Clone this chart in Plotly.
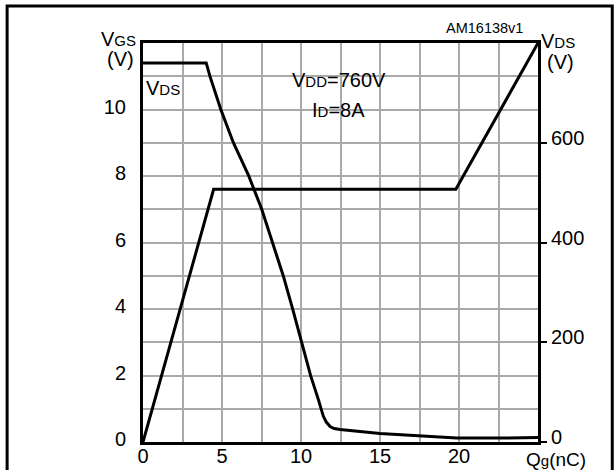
import plotly.graph_objects as go

# Gate charge Qg (nC) and VGS (V) - left axis
qg_vgs = [0, 4.47, 19.8, 25]
vgs = [0, 7.6, 7.6, 12]

# Gate charge Qg (nC) and VDS (V) - right axis
qg_vds = [0, 4.0, 4.24, 4.92, 5.72, 6.70, 7.51, 8.20, 8.88, 9.47, 10.04, 10.61,
          11.1, 11.41, 11.6, 11.84, 12.1, 12.47, 15.0, 17.53, 19.85, 22.6, 25]
vds = [760, 760, 733, 667, 600, 533, 467, 400, 333, 267, 200, 133,
       85, 52, 40, 31, 27, 25, 17, 12, 8, 8, 9]

x_grid = [0, 2.5, 5, 7.5, 10, 12.5, 15, 17.5, 20, 22.5, 25]
x_text = ["0", "", "5", "", "10", "", "15", "", "20", "", ""]
y_grid = list(range(0, 13))
y_text = ["0", "", "2", "", "4", "", "6", "", "8", "", "10", "", ""]
y2_ticks = [0, 200, 400, 600]

FONT = "Liberation Sans, Arial, sans-serif"
SUB = "<span style='font-size:15px'>{}</span>"

fig = go.Figure()
fig.add_trace(go.Scatter(x=qg_vgs, y=vgs, mode="lines",
                         line=dict(color="black", width=3), yaxis="y",
                         showlegend=False, hoverinfo="skip"))
fig.add_trace(go.Scatter(x=qg_vds, y=vds, mode="lines",
                         line=dict(color="black", width=3),
                         yaxis="y2", showlegend=False, hoverinfo="skip"))

fig.update_layout(
    width=615, height=470,
    margin=dict(l=143, r=77, t=43, b=28, autoexpand=False),
    paper_bgcolor="white", plot_bgcolor="white",
    font=dict(family=FONT, size=20, color="black"),
    xaxis=dict(range=[0, 25], tickvals=x_grid, ticktext=x_text,
               showgrid=True, gridcolor="#aaaaaa", gridwidth=1.5,
               showline=True, linecolor="black", linewidth=3, mirror=True,
               ticks="", ticklen=0, zeroline=False, ticklabelstandoff=-6,
               automargin=False),
    yaxis=dict(range=[0, 12], tickvals=y_grid, ticktext=y_text,
               showgrid=True, gridcolor="#aaaaaa", gridwidth=1.5,
               showline=True, linecolor="black", linewidth=3, mirror=True,
               ticks="", ticklen=0, zeroline=False, ticklabelstandoff=10,
               ticklabelshift=-3, automargin=False),
    yaxis2=dict(range=[0, 800], tickvals=y2_ticks, overlaying="y", side="right",
                showgrid=False, zeroline=False, showline=True, linecolor="black",
                linewidth=3, ticks="outside", ticklen=6, tickwidth=2,
                tickcolor="black", ticklabelstandoff=0, ticklabelshift=-5,
                automargin=False),
)

# white box behind the test-condition text
fig.add_shape(type="rect", xref="paper", yref="paper",
              x0=0.339, x1=0.651, y0=0.789, y1=0.957,
              fillcolor="white", line=dict(width=0), layer="between")

# outer frame
fig.add_shape(type="rect", xref="paper", yref="paper",
              x0=-0.344, x1=1.188, y0=-0.2, y1=1.093,
              line=dict(color="black", width=3), fillcolor="rgba(0,0,0,0)")

ann = [
    dict(text="V" + SUB.format("GS"), x=138, y=39, xanchor="right"),
    dict(text="(V)", x=136, y=59, xanchor="right"),
    dict(text="V" + SUB.format("DS"), x=539, y=41, xanchor="left"),
    dict(text="(V)", x=545, y=62, xanchor="left"),
    dict(text="V" + SUB.format("DS"), x=144, y=88, xanchor="left"),
    dict(text="V" + SUB.format("DD") + "=760V", x=339, y=80, xanchor="center"),
    dict(text="I" + SUB.format("D") + "=8A", x=338, y=110, xanchor="center"),
    dict(text="AM16138v1", x=484, y=28, xanchor="center", size=14.5),
    dict(text="Q" + SUB.format("g") + "(nC)", x=556, y=459, xanchor="center", size=19),
]
for a in ann:
    fig.add_annotation(
        text=a["text"], showarrow=False,
        xref="paper", yref="paper",
        x=(a["x"] - 143) / 395.0, y=(442 - a["y"]) / 399.0,
        xanchor=a["xanchor"], yanchor="middle",
        font=dict(family=FONT, size=a.get("size", 20), color="black"),
    )

fig.write_html("out.html", config={"displayModeBar": False},
               post_script="document.body.style.margin='0';")
